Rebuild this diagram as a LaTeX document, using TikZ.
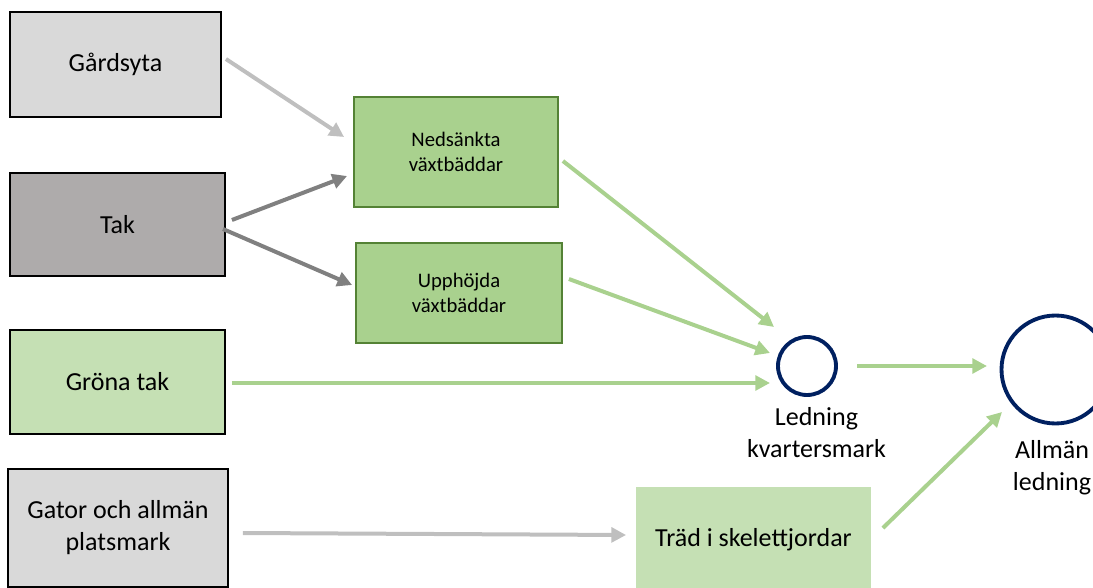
\documentclass[tikz,border=0pt]{standalone}
\usepackage{fontspec}
\setmainfont{Carlito}
\usetikzlibrary{arrows.meta,calc}
\definecolor{gardgray}{HTML}{D9D9D9}
\definecolor{takgray}{HTML}{AEABAB}
\definecolor{lightgreen}{HTML}{C5E0B4}
\definecolor{bedgreen}{HTML}{A9D18E}
\definecolor{bedborder}{HTML}{548235}
\definecolor{pipeblue}{HTML}{002060}
\definecolor{arrlight}{HTML}{BFBFBF}
\definecolor{arrdark}{HTML}{808080}

\begin{document}
\begin{tikzpicture}[x=0.75pt, y=-0.75pt,
	box/.style={draw=black, line width=1.4pt, align=center, inner sep=0pt, font=\fontsize{19.5}{24}\selectfont},
	bed/.style={draw=bedborder, fill=bedgreen, line width=1.4pt, align=center, inner sep=0pt, font=\fontsize{15.5}{19}\selectfont},
	pipe/.style={circle, draw=pipeblue, line width=2.9pt, inner sep=0pt},
	lbl/.style={align=center, font=\fontsize{19.5}{24}\selectfont},
	flow/.style={line width=3pt, -{Triangle[length=11pt, width=11pt]}}]
	\useasboundingbox (0, 0) rectangle (1093, 588);
	\clip (0, 0) rectangle (1093, 588);
	% Source boxes:
	\node[box, fill=gardgray, minimum width=158.25pt, minimum height=78.75pt] (gard) at (115.5, 64.5){Gårdsyta};
	\node[box, fill=takgray, minimum width=161.25pt, minimum height=77.25pt] (tak) at (117.5, 224.5){Tak};
	\node[box, fill=lightgreen, minimum width=161.25pt, minimum height=78pt] (grona) at (117.5, 382){Gröna tak};
	\node[box, fill=gardgray, minimum width=165pt, minimum height=88.5pt] (gator) at (118, 528){Gator och allmän\\platsmark};
	% Beds and trees:
	\node[bed, minimum width=153pt, minimum height=82.5pt] (ned) at (456, 152){Nedsänkta\\växtbäddar};
	\node[bed, minimum width=154.5pt, minimum height=75pt] (upp) at (459, 293){Upphöjda\\växtbäddar};
	\node[box, draw=none, fill=lightgreen, minimum width=176.25pt, minimum height=79.5pt] (trad) at (753.5, 540){Träd i skelettjordar};
	% Pipes:
	\node[pipe, minimum size=43.5pt] (kv) at (807, 366){};
	\node[pipe, minimum size=81pt] (allm) at (1055.5, 369.5){};
	\node[lbl] (kvtext) at (816.5, 433){Ledning\\kvartersmark};
	\node[lbl] (allmtext) at (1052, 468){Allmän\\ledning};
	% Arrows:
	\draw[flow, arrlight] ($(gard.east)+(4, -5.5)$) -- ($(ned.west)+(-9, -15)$);
	\draw[flow, arrdark] ($(tak.east)+(6, -4.5)$) -- ($(ned.west)+(-6, 24)$);
	\draw[flow, arrdark] ($(tak.east)+(-3, 4.5)$) -- ($(upp.west)+(-3, -8)$);
	\draw[flow, bedgreen] ($(ned.east)+(4, 9)$) -- ($(kv)+(-33, -39)$);
	\draw[flow, bedgreen] ($(upp.east)+(6, -14)$) -- ($(kv)+(-37, -13)$);
	\draw[flow, bedgreen] ($(grona.east)+(6, 1)$) -- ($(kv)+(-37, 17)$);
	\draw[flow, bedgreen] ($(kv)+(50, 0)$) -- ($(allm)+(-68.5, -3.5)$);
	\draw[flow, bedgreen] ($(trad.east)+(11, -12)$) -- ($(allm)+(-53.5, 42.5)$);
	\draw[flow, arrlight] ($(gator.east)+(14, 5)$) -- ($(trad.west)+(-9, -5)$);
\end{tikzpicture}
\end{document}
